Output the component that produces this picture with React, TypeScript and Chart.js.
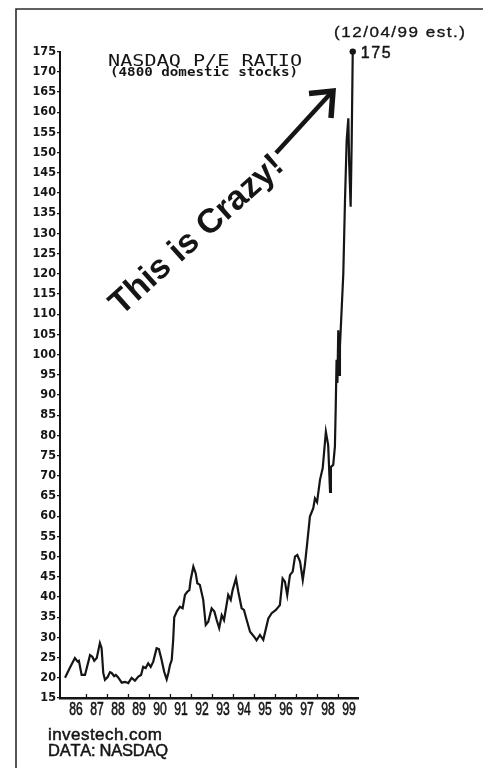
import React, { useEffect, useRef } from "react";
import { Chart, registerables } from "chart.js";

Chart.register(...registerables);

// ---- data ----
const yearStarts = [1986, 1987, 1988, 1989, 1990, 1991, 1992, 1993, 1994, 1995, 1996, 1997, 1998, 1999];
const yearLabels = ["86", "87", "88", "89", "90", "91", "92", "93", "94", "95", "96", "97", "98", "99"];

const dates = [
  1985.98, 1986.21, 1986.45, 1986.58, 1986.64, 1986.77, 1986.93, 1987.17, 1987.28, 1987.37,
  1987.49, 1987.64, 1987.72, 1987.80, 1987.88, 1988.01, 1988.12, 1988.20, 1988.32, 1988.40,
  1988.51, 1988.68, 1988.83, 1988.99, 1989.15, 1989.31, 1989.47, 1989.60, 1989.70, 1989.82,
  1989.94, 1990.06, 1990.18, 1990.34, 1990.45, 1990.58, 1990.70, 1990.82, 1990.90, 1990.98,
  1991.06, 1991.13, 1991.18, 1991.31, 1991.45, 1991.58, 1991.69, 1991.80, 1991.90, 1991.96,
  1992.09, 1992.20, 1992.28, 1992.40, 1992.56, 1992.68, 1992.80, 1992.96, 1993.09, 1993.20,
  1993.32, 1993.44, 1993.55, 1993.75, 1993.87, 1993.96, 1994.12, 1994.23, 1994.39, 1994.50,
  1994.63, 1994.79, 1994.98, 1995.10, 1995.26, 1995.42, 1995.66, 1995.82, 1996.02, 1996.21,
  1996.34, 1996.45, 1996.56, 1996.69, 1996.82, 1996.93, 1997.04, 1997.17, 1997.30, 1997.40,
  1997.51, 1997.64, 1997.80, 1997.88, 1997.98, 1998.12, 1998.25, 1998.40, 1998.51, 1998.60,
  1998.64, 1998.75, 1998.83, 1998.87, 1998.91, 1998.95, 1998.99, 1999.03, 1999.07, 1999.23,
  1999.31, 1999.39, 1999.47, 1999.51, 1999.58, 1999.63, 1999.68,
];

const peRatio = [
  20.0, 22.5, 24.9, 24.0, 24.2, 20.7, 20.7, 25.6, 25.2, 24.2,
  24.9, 28.6, 27.4, 21.2, 19.5, 20.2, 21.4, 21.2, 20.4, 20.7,
  20.1, 18.8, 19.0, 18.7, 20.0, 19.3, 20.3, 20.7, 22.7, 22.4,
  23.6, 22.7, 24.0, 27.3, 27.1, 24.4, 21.5, 19.6, 21.2, 23.2,
  24.4, 29.4, 35.0, 36.5, 37.6, 37.2, 40.5, 41.3, 41.7, 44.2,
  47.5, 45.9, 43.4, 43.0, 39.3, 33.1, 33.9, 37.2, 36.4, 34.3,
  32.3, 35.5, 34.3, 40.5, 39.3, 41.7, 44.6, 41.3, 37.2, 36.8,
  34.3, 31.4, 30.2, 29.3, 30.6, 29.4, 34.7, 36.0, 36.8, 38.0,
  44.6, 43.8, 40.5, 45.4, 46.3, 50.0, 50.4, 48.8, 44.2, 47.9,
  53.3, 59.9, 62.0, 64.4, 63.5, 69.0, 71.9, 80.9, 77.6, 66.0,
  72.2, 72.7, 77.2, 87.1, 98.7, 93.0, 106.0, 95.0, 102.0, 120.0,
  138.0, 153.0, 158.5, 147.3, 136.6, 153.0, 175.0,
];

const yMin = 15;
const yMax = 175;
const yStep = 5;
const xMin = 1985.74;
const xMax = 1999.93;

const titleText = "NASDAQ P/E RATIO";
const subtitleText = "(4800 domestic stocks)";
const dateNote = "(12/04/99 est.)";
const lastValueLabel = "175";
const calloutText = "This is Crazy!";
const sourceSite = "investech.com";
const sourceData = "DATA: NASDAQ";

const INK = "#151515";
const SANS = "'Liberation Sans', Arial, sans-serif";

function drawFitted(
  ctx: CanvasRenderingContext2D,
  text: string,
  x: number,
  y: number,
  width: number,
  font: string,
  align = "left",
  stroke = 0
) {
  ctx.save();
  ctx.font = font;
  ctx.textAlign = "left";
  ctx.textBaseline = "alphabetic";
  const w = ctx.measureText(text).width;
  const x0 = align === "center" ? x - width / 2 : x;
  ctx.translate(x0, y);
  ctx.scale(width / w, 1);
  ctx.fillText(text, 0, 0);
  if (stroke > 0) {
    ctx.lineWidth = stroke;
    ctx.strokeStyle = ctx.fillStyle as string;
    ctx.strokeText(text, 0, 0);
  }
  ctx.restore();
}

function drawSpaced(
  ctx: CanvasRenderingContext2D,
  text: string,
  x: number,
  y: number,
  width: number,
  font: string,
  hscale = 1,
  stroke = 0
) {
  ctx.save();
  ctx.font = font;
  ctx.textAlign = "left";
  ctx.textBaseline = "alphabetic";
  const chars = Array.from(text);
  const widths = chars.map((c) => ctx.measureText(c).width * hscale);
  const total = widths.reduce((a, b) => a + b, 0);
  const extra = chars.length > 1 ? (width - total) / (chars.length - 1) : 0;
  let cx = x;
  chars.forEach((c, i) => {
    ctx.save();
    ctx.translate(cx, y);
    ctx.scale(hscale, 1);
    ctx.fillText(c, 0, 0);
    if (stroke > 0) {
      ctx.lineWidth = stroke;
      ctx.strokeStyle = ctx.fillStyle as string;
      ctx.strokeText(c, 0, 0);
    }
    ctx.restore();
    cx += widths[i] + extra;
  });
  ctx.restore();
}

const annotationPlugin = {
  id: "annotationPlugin",
  afterDraw(chart: any) {
    const ctx: CanvasRenderingContext2D = chart.ctx;
    const xs = chart.scales.x;
    const ys = chart.scales.y;
    ctx.save();

    // outer frame (top + left edges of the scan)
    ctx.strokeStyle = "#2c2c2c";
    ctx.lineWidth = 1.6;
    ctx.beginPath();
    ctx.moveTo(16, 768);
    ctx.lineTo(16, 9);
    ctx.lineTo(483, 9);
    ctx.stroke();

    // small year-boundary ticks on the x axis
    ctx.strokeStyle = INK;
    ctx.lineWidth = 1.3;
    const axisY = ys.getPixelForValue(yMin);
    for (const yr of yearStarts.slice(1)) {
      const px = xs.getPixelForValue(yr);
      ctx.beginPath();
      ctx.moveTo(px, axisY - 1);
      ctx.lineTo(px, axisY - 4);
      ctx.stroke();
    }

    // x-axis year labels (tall condensed), positioned by the x scale
    ctx.fillStyle = INK;
    yearStarts.forEach((yr, i) => {
      const px = xs.getPixelForValue(yr + 0.5);
      drawFitted(ctx, yearLabels[i], px, axisY + 17, 13.5, `18px ${SANS}`, "center", 0.6);
    });

    // titles
    drawFitted(ctx, titleText, 108, 66, 194, "15.5px 'DejaVu Sans Mono'");
    drawFitted(ctx, subtitleText, 110, 76, 188, "bold 13px 'DejaVu Sans Mono'");

    // date note + last value
    drawSpaced(ctx, dateNote, 334, 37, 131, `15.5px ${SANS}`, 1.1, 0.35);
    const lastIdx = dates.length - 1;
    const lx = xs.getPixelForValue(dates[lastIdx]);
    const ly = ys.getPixelForValue(peRatio[lastIdx]);
    drawSpaced(ctx, lastValueLabel, lx + 8, ly + 6, 30, `16px ${SANS}`, 1, 0.45);

    // callout text
    ctx.save();
    ctx.translate(196, 234);
    ctx.rotate((-42 * Math.PI) / 180);
    ctx.font = `bold 34px ${SANS}`;
    ctx.textAlign = "center";
    ctx.textBaseline = "alphabetic";
    ctx.fillText(calloutText, 0, 11);
    ctx.restore();

    // arrow
    ctx.strokeStyle = INK;
    ctx.lineCap = "butt";
    ctx.lineWidth = 4.5;
    ctx.beginPath();
    ctx.moveTo(276, 153);
    ctx.lineTo(330, 94);
    ctx.stroke();
    ctx.lineWidth = 5.5;
    ctx.lineJoin = "miter";
    ctx.beginPath();
    ctx.moveTo(309, 93.5);
    ctx.lineTo(333, 91);
    ctx.lineTo(331, 118);
    ctx.stroke();

    // source text
    ctx.fillStyle = INK;
    drawSpaced(ctx, sourceSite, 48, 740, 114, `17px ${SANS}`, 1, 0.5);
    drawSpaced(ctx, sourceData, 48, 755.5, 120, `16.5px ${SANS}`, 1, 0.5);

    ctx.restore();
  },
};

export default function App() {
  const canvasRef = useRef<HTMLCanvasElement | null>(null);

  useEffect(() => {
    if (!canvasRef.current) return;
    const points = dates.map((d, i) => ({ x: d, y: peRatio[i] }));
    const lastIdx = points.length - 1;
    const chart = new Chart(canvasRef.current, {
      type: "line",
      data: {
        datasets: [
          {
            data: points,
            borderColor: INK,
            backgroundColor: INK,
            borderWidth: 2.2,
            tension: 0,
            clip: false,
            pointRadius: (c: any) => (c.dataIndex === lastIdx ? 3.2 : 0),
            pointBackgroundColor: INK,
            pointBorderWidth: 0,
            fill: false,
          },
        ],
      },
      options: {
        responsive: false,
        devicePixelRatio: 1,
        animation: false,
        events: [],
        layout: { padding: { left: 0, top: 51.6, right: 125, bottom: 0 } },
        plugins: {
          legend: { display: false },
          tooltip: { enabled: false },
          title: { display: false },
        },
        scales: {
          x: {
            type: "linear",
            min: xMin,
            max: xMax,
            afterBuildTicks: (scale: any) => {
              scale.ticks = yearStarts.map((y) => ({ value: y + 0.5 }));
            },
            afterFit: (scale: any) => {
              scale.height = 70;
            },
            ticks: { display: false },
            grid: { display: false, drawTicks: false },
            border: { display: true, color: INK, width: 2.5 },
          },
          y: {
            type: "linear",
            min: yMin,
            max: yMax,
            afterFit: (scale: any) => {
              scale.width = 60;
            },
            ticks: {
              stepSize: yStep,
              autoSkip: false,
              padding: 1,
              color: INK,
              font: { family: "'Liberation Sans Narrow', 'DejaVu Sans Condensed', sans-serif", size: 12.5, weight: "bold" },
            },
            grid: {
              display: true,
              drawOnChartArea: false,
              drawTicks: true,
              tickLength: 3,
              color: INK,
              lineWidth: 1.2,
            },
            border: { display: true, color: INK, width: 2 },
          },
        },
      },
      plugins: [annotationPlugin],
    } as any);
    return () => chart.destroy();
  }, []);

  return (
    <div style={{ position: "fixed", left: 0, top: 0, width: 483, height: 768, background: "#fff" }}>
      <canvas ref={canvasRef} width={483} height={768} style={{ display: "block", width: 483, height: 768 }} />
    </div>
  );
}
